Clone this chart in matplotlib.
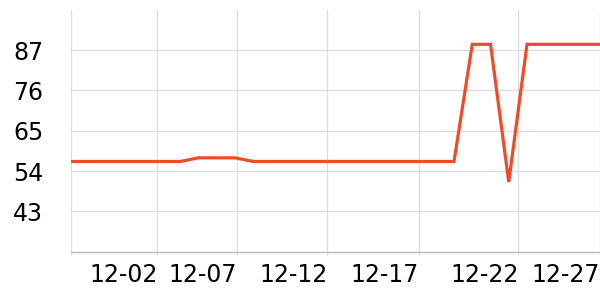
import matplotlib.pyplot as plt

# Data
values = [56.6, 56.6, 56.6, 56.6, 56.6, 56.6, 56.6, 57.6, 57.6, 57.6,
          56.6, 56.6, 56.6, 56.6, 56.6, 56.6, 56.6, 56.6, 56.6, 56.6,
          56.6, 56.6, 88.6, 88.6, 51.0, 88.6, 88.6, 88.6, 88.6, 88.6]
tick_pos = [0, 4.75, 9.1, 14.06, 19.07, 24.53, 29]
tick_labels = ["", "12-02", "12-07", "12-12", "12-17", "12-22", "12-27"]
y_ticks = [43, 54, 65, 76, 87]

line_color = "#ee4b2b"
grid_color = "#dcdcdc"

fig = plt.figure(figsize=(6, 3), dpi=100)
ax = fig.add_axes([0.118, 0.159, 0.882, 0.808])

ax.plot(range(len(values)), values, color=line_color, lw=2.3, solid_joinstyle="miter")

ax.set_xlim(0, len(values) - 1)
ax.set_ylim(31.8, 98)
ax.set_xticks(tick_pos)
ax.set_xticklabels(tick_labels, ha="right")
ax.set_yticks(y_ticks)

ax.grid(True, color=grid_color, lw=0.9)
ax.set_axisbelow(True)
for s in ["top", "right", "left"]:
    ax.spines[s].set_visible(False)
ax.spines["bottom"].set_color("#bbbbbb")
ax.spines["bottom"].set_linewidth(1.0)

ax.tick_params(axis="y", length=1.8, color=grid_color, pad=18, labelsize=17)
ax.tick_params(axis="x", length=1.8, color=grid_color, pad=6, labelsize=17)

fig.savefig("out.png", dpi=100)
